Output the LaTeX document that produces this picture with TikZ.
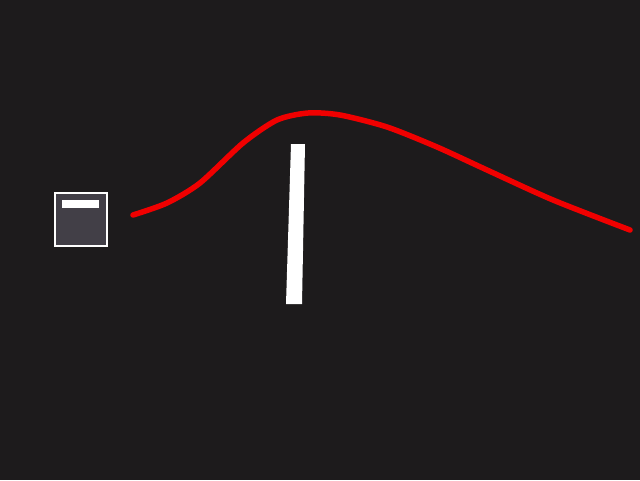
\documentclass[tikz,border=0pt]{standalone}
\definecolor{bgdark}{HTML}{1D1B1C}
\definecolor{boxfill}{HTML}{423F47}
\definecolor{curvered}{HTML}{F00000}
\tikzset{
  whiteframe/.style={draw=white, line width=2pt, fill=boxfill},
  whitebar/.style={fill=white, draw=none},
  redcurve/.style={draw=curvered, line width=5.5pt, line cap=round, line join=round}
}
\begin{document}
\begin{tikzpicture}[x=1pt, y=-1pt]
  \fill[bgdark] (0,0) rectangle (640,480);
  \useasboundingbox (0,0) rectangle (640,480);
  % small square with bar
  \node[whiteframe, minimum width=52pt, minimum height=53pt, inner sep=0pt, anchor=north west] (box) at (54,192) {};
  \node[whitebar, minimum width=37pt, minimum height=8pt, inner sep=0pt, anchor=north west] (boxbar) at (62,200) {};
  % slanted white bar
  \fill[white] (291,144) -- (305,144) -- (302,304) -- (286,304) -- cycle;
  % red curve
  \draw[redcurve] plot[smooth, tension=0.45] coordinates {
    (133,215) (167,203) (200,183) (243,143) (277,120) (308,113) (340,115)
    (387,127) (437,147) (487,170) (553,200) (630,230)};
\end{tikzpicture}
\end{document}
